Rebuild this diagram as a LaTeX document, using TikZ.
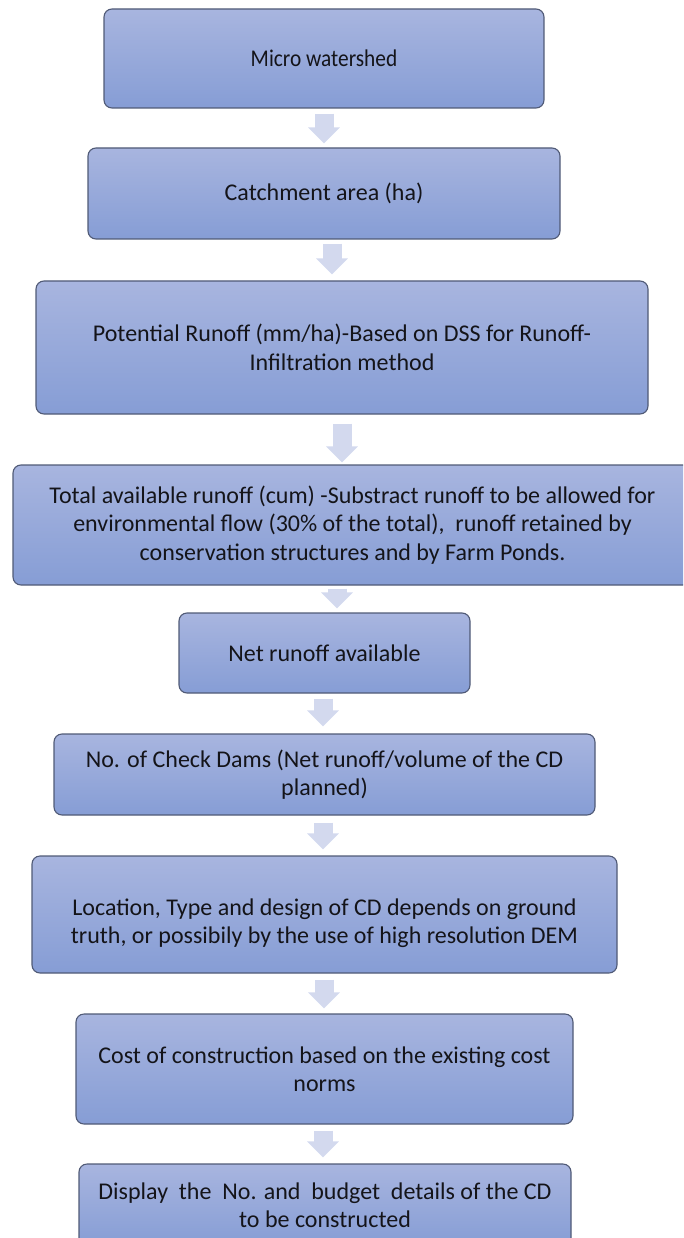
\documentclass[tikz,border=0pt]{standalone}
\usepackage{fontspec}
\usepackage{graphicx}
\setmainfont{Carlito}
\usetikzlibrary{arrows.meta}
\definecolor{boxtop}{RGB}{168,181,223}
\definecolor{boxbot}{RGB}{134,157,213}
\definecolor{boxline}{RGB}{80,90,118}
\definecolor{arrowcol}{RGB}{211,217,238}
\definecolor{txt}{RGB}{20,20,25}
\tikzset{
  flowbox/.style={rectangle, rounded corners=8pt, draw=boxline, line width=1.1pt,
    top color=boxtop, bottom color=boxbot, align=center, text=txt, inner sep=0pt,
    font=\fontsize{24}{28.5}\selectfont},
  flowtext/.style={align=center, text=txt, inner sep=0pt, font=\fontsize{24}{28.5}\selectfont},
  flowarrow/.style={draw=arrowcol, line width=19pt, -{Triangle[width=31pt,length=16pt]}}
}
\begin{document}
\begin{tikzpicture}[x=1pt,y=-1pt]
\useasboundingbox (0,0) rectangle (683,1238);
\clip (0,0) rectangle (683,1238);
\node[flowbox, minimum width=440pt, minimum height=99pt] (b1) at (324,58.5) {\scalebox{0.89}[1]{Micro watershed}};
\node[flowbox, minimum width=472pt, minimum height=91pt] (b2) at (324,193.5) {Catchment area (ha)};
\node[flowbox, minimum width=612pt, minimum height=133pt] (b3) at (342,347.5) {Potential Runoff (mm/ha)-Based on DSS for Runoff-\\Infiltration method};
\node[flowbox, minimum width=679pt, minimum height=120pt] (b4) at (352.5,525) {Total available runoff (cum) -Substract runoff to be allowed for\\environmental flow (30\% of the total),\ \ runoff retained by\\conservation structures and by Farm Ponds.};
\node[flowbox, minimum width=291pt, minimum height=80pt] (b5) at (324.5,653) {Net runoff available};
\node[flowbox, minimum width=541pt, minimum height=81pt] (b6) at (324.5,774.5) {No. of Check Dams (Net runoff/volume of the CD\\planned)};
\node[flowbox, minimum width=585pt, minimum height=117pt] (b7) at (324.5,914.5) {};
\node[flowtext] (t7) at (324.5,923) {Location, Type and design of CD depends on ground\\truth, or possibily by the use of high resolution DEM};
\node[flowbox, minimum width=497pt, minimum height=110pt] (b8) at (324.5,1069) {Cost of construction based on the existing cost\\norms};
\node[flowbox, minimum width=492pt, minimum height=82pt] (b9) at (325,1205) {Display\ \ the\ \ No. and\ \ budget\ \ details of the CD\\to be constructed};
\draw[flowarrow, shorten <=5pt, shorten >=4pt] (b1.south) -- (b2.north);
\draw[flowarrow, shorten <=4pt, shorten >=6pt] ([xshift=8pt]b2.south) -- ([xshift=-10pt]b3.north);
\draw[flowarrow, shorten <=9pt, shorten >=2pt] (b3.south) -- ([xshift=-10.5pt]b4.north);
\draw[flowarrow, shorten <=3pt, shorten >=4pt] ([xshift=-15.5pt]b4.south) -- ([xshift=12.5pt]b5.north);
\draw[flowarrow, shorten <=5pt, shorten >=7pt] ([xshift=-1.5pt]b5.south) -- ([xshift=-1.5pt]b6.north);
\draw[flowarrow, shorten <=7pt, shorten >=6pt] ([xshift=-1.5pt]b6.south) -- ([xshift=-1.5pt]b7.north);
\draw[flowarrow, shorten <=6pt, shorten >=5pt] ([xshift=-0.5pt]b7.south) -- ([xshift=-0.5pt]b8.north);
\draw[flowarrow, shorten <=6pt, shorten >=6pt] ([xshift=-1.5pt]b8.south) -- ([xshift=-2pt]b9.north);
\end{tikzpicture}
\end{document}
